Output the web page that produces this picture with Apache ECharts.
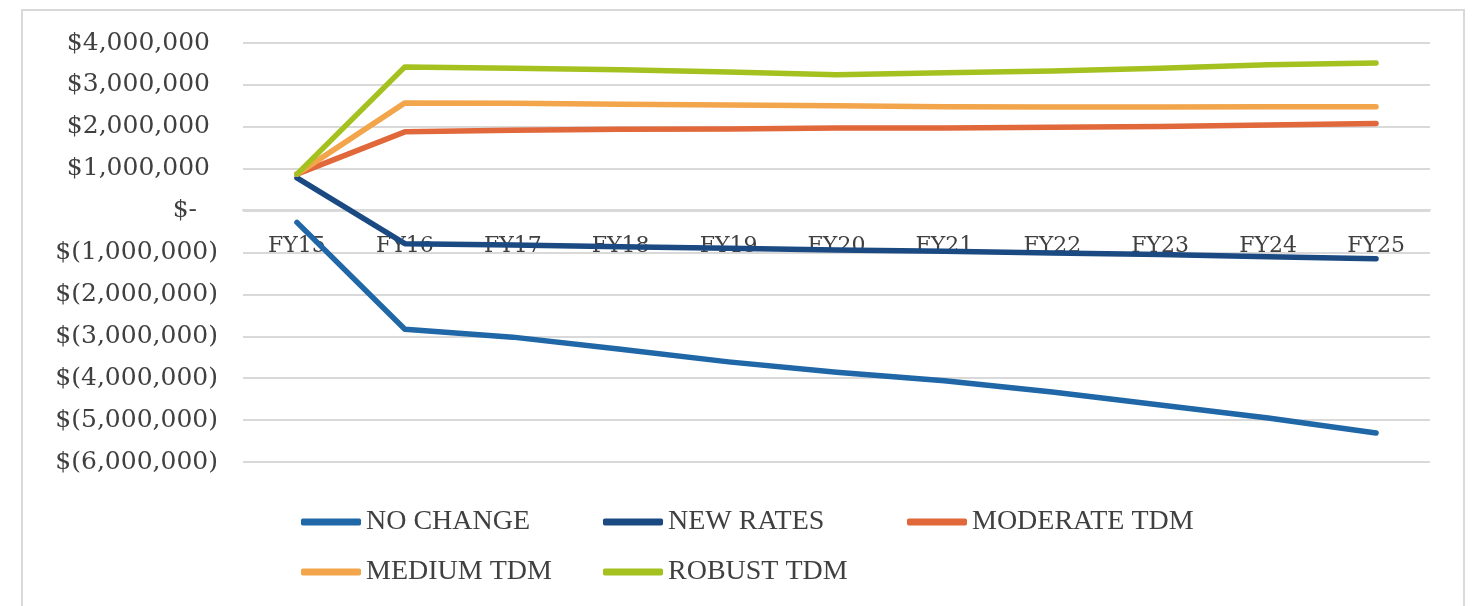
<!DOCTYPE html>
<html>
<head>
<meta charset="utf-8">
<title>TDM scenarios</title>
<script src="https://cdn.jsdelivr.net/npm/echarts@6/dist/echarts.min.js"></script>
<style>
  html, body {
    margin: 0;
    padding: 0;
    background: #fff;
  }
  #chart {
    width: 1479px;
    height: 606px;
  }
</style>
</head>
<body>
<div id="chart"></div>
<script>
const years = ['FY15', 'FY16', 'FY17', 'FY18', 'FY19', 'FY20', 'FY21', 'FY22', 'FY23', 'FY24', 'FY25']

const noChange = [-280000, -2830000, -3020000, -3310000, -3610000, -3860000, -4060000, -4330000, -4640000, -4950000, -5310000]
const newRates = [780000, -790000, -820000, -860000, -900000, -940000, -970000, -1010000, -1050000, -1100000, -1150000]
const moderateTdm = [870000, 1880000, 1920000, 1940000, 1950000, 1970000, 1970000, 1990000, 2010000, 2040000, 2080000]
const mediumTdm = [870000, 2570000, 2560000, 2540000, 2520000, 2500000, 2480000, 2470000, 2470000, 2480000, 2480000]
const robustTdm = [870000, 3430000, 3400000, 3360000, 3310000, 3240000, 3290000, 3330000, 3400000, 3480000, 3520000]

// legend slots: [left, top]
const seriesList = [
  { name: 'NO CHANGE', data: noChange, color: '#1f67a6', slot: [296, 503] },
  { name: 'NEW RATES', data: newRates, color: '#1b4a82', slot: [598, 503] },
  { name: 'MODERATE TDM', data: moderateTdm, color: '#e0683b', slot: [902, 503] },
  { name: 'MEDIUM TDM', data: mediumTdm, color: '#f2a54a', slot: [296, 553] },
  { name: 'ROBUST TDM', data: robustTdm, color: '#a4c11f', slot: [598, 553] }
]

const axisFont = 'DejaVu Serif'
const legendFont = 'Liberation Serif'
const textColor = '#404040'
const gridColor = '#d9d9d9'
const labelSize = 25

function money (v) {
  return Math.abs(v).toLocaleString('en-US')
}

const chart = echarts.init(document.getElementById('chart'))

chart.setOption({
  animation: false,
  backgroundColor: '#fff',
  graphic: [
    {
      type: 'rect',
      shape: { x: 22, y: 10, width: 1442, height: 640 },
      style: { fill: 'none', stroke: gridColor, lineWidth: 2 },
      silent: true
    }
  ],
  grid: {
    left: 243,
    right: 49,
    top: 43,
    bottom: 144
  },
  legend: seriesList.map(item => {
    return {
      left: item.slot[0],
      top: item.slot[1],
      data: [item.name],
      itemWidth: 60,
      itemHeight: 7,
      itemGap: 0,
      icon: 'roundRect',
      textStyle: {
        fontFamily: legendFont,
        fontSize: 28,
        color: textColor
      }
    }
  }),
  xAxis: {
    type: 'category',
    data: years,
    boundaryGap: true,
    // sit the axis on the zero line
    offset: -252,
    axisLine: {
      onZero: false,
      lineStyle: { color: gridColor, width: 2 }
    },
    axisTick: { show: false },
    axisLabel: {
      margin: 25,
      fontFamily: axisFont,
      fontSize: 22,
      color: textColor
    }
  },
  yAxis: {
    type: 'value',
    min: -6000000,
    max: 4000000,
    interval: 1000000,
    axisLine: { show: false },
    axisTick: { show: false },
    splitLine: {
      lineStyle: { color: gridColor, width: 2 }
    },
    axisLabel: {
      margin: 25,
      fontFamily: axisFont,
      fontSize: labelSize,
      color: textColor,
      formatter (v) {
        if (v > 0) return '{pos|$' + money(v) + '}'
        if (v === 0) return '{zero|$-}'
        return '{neg|$(' + money(v) + ')}'
      },
      rich: {
        pos: { fontFamily: axisFont, fontSize: labelSize, color: textColor, padding: [0, 8, 0, 0] },
        zero: { fontFamily: axisFont, fontSize: labelSize, color: textColor, padding: [0, 21, 0, 0] },
        neg: { fontFamily: axisFont, fontSize: labelSize, color: textColor }
      }
    }
  },
  series: seriesList.map(item => {
    return {
      name: item.name,
      type: 'line',
      data: item.data,
      symbol: 'none',
      color: item.color,
      lineStyle: { width: 5.5, color: item.color, cap: 'round', join: 'round' }
    }
  })
})
</script>
</body>
</html>
